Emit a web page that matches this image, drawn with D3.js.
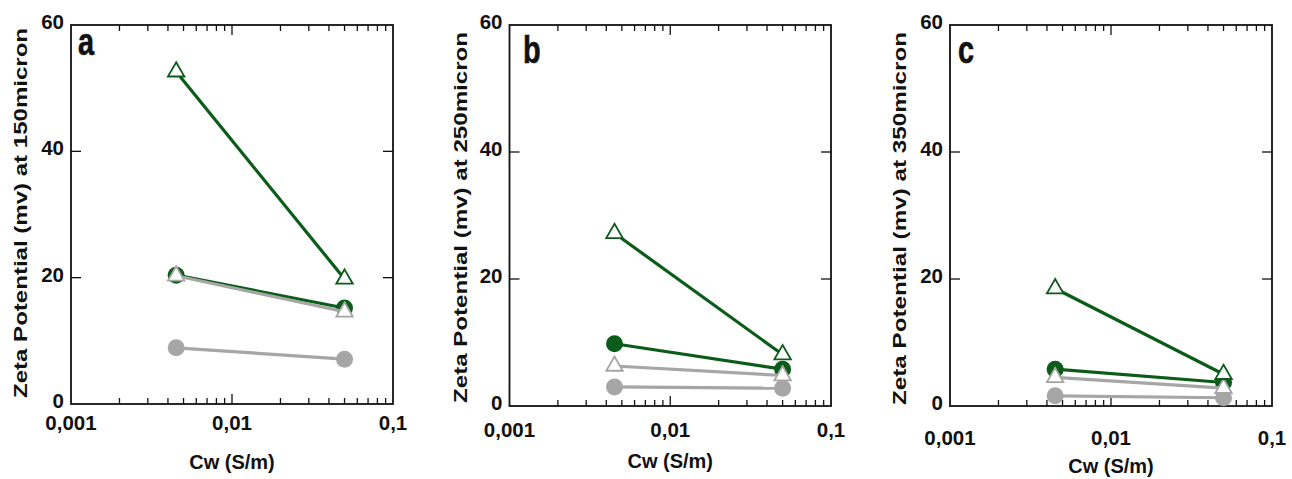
<!DOCTYPE html>
<html><head><meta charset="utf-8">
<script src="https://cdn.jsdelivr.net/npm/d3@7"></script>
<style>body{margin:0;background:#fff}svg{display:block}text{font-family:"Liberation Sans",Arial,sans-serif;font-weight:bold;fill:#111}</style>
</head><body>
<svg id="chart" width="1292" height="479"></svg>
<script>
// ---- data ----
const cwValues = [0.0045, 0.05];
const xTickValues = [0.001, 0.01, 0.1];
const xTickLabels = ["0,001", "0,01", "0,1"];
const yTickValues = [0, 20, 40, 60];
const yTickLabels = ["0", "20", "40", "60"];
const panelLetters = ["a", "b", "c"];
const yAxisTitles = ["Zeta Potential (mv) at 150micron", "Zeta Potential (mv) at 250micron", "Zeta Potential (mv) at 350micron"];
const xAxisTitle = "Cw (S/m)";
const seriesNames = ["grayCircle", "greenCircle", "grayTriangle", "greenTriangle"];

const panelA_grayCircle = [8.9, 7.1];
const panelA_greenCircle = [20.4, 15.2];
const panelA_grayTriangle = [20.3, 14.6];
const panelA_greenTriangle = [52.6, 19.8];

const panelB_grayCircle = [3.0, 2.8];
const panelB_greenCircle = [9.8, 5.8];
const panelB_grayTriangle = [6.3, 4.8];
const panelB_greenTriangle = [27.2, 8.1];

const panelC_grayCircle = [1.6, 1.3];
const panelC_greenCircle = [5.8, 3.7];
const panelC_grayTriangle = [4.5, 2.8];
const panelC_greenTriangle = [18.5, 5.0];

const panelData = [
  [panelA_grayCircle, panelA_greenCircle, panelA_grayTriangle, panelA_greenTriangle],
  [panelB_grayCircle, panelB_greenCircle, panelB_grayTriangle, panelB_greenTriangle],
  [panelC_grayCircle, panelC_greenCircle, panelC_grayTriangle, panelC_greenTriangle]
];

// ---- styles / layout ----
const GREEN = "#0c5c19", GRAY = "#a6a6a6";
const seriesStyle = {
  grayCircle: {color: GRAY, shape: "circle"},
  greenCircle: {color: GREEN, shape: "circle"},
  grayTriangle: {color: GRAY, shape: "triangle"},
  greenTriangle: {color: GREEN, shape: "triangle"}
};
const layouts = [
  {left: 71, right: 393, top: 25, bottom: 404, xLabY: 430, cwY: 469, letterX: 78, letterY: 55, ylabX: 21, ylabY0: 398, ylabY1: 28},
  {left: 509.5, right: 831, top: 25, bottom: 406, xLabY: 437, cwY: 468, letterX: 523, letterY: 63, ylabX: 461, ylabY0: 403, ylabY1: 32},
  {left: 950, right: 1272, top: 25, bottom: 406, xLabY: 445, cwY: 473, letterX: 958, letterY: 63, ylabX: 900, ylabY0: 405, ylabY1: 32}
];

const svg = d3.select("#chart");

layouts.forEach((L, pi) => {
  const g = svg.append("g");
  const x = d3.scaleLog().domain([0.001, 0.1]).range([L.left, L.right]);
  const y = d3.scaleLinear().domain([0, 60]).range([L.bottom, L.top]);

  // x ticks (log minor + major)
  x.ticks().forEach(v => {
    const isMajor = Math.abs(Math.log10(v) - Math.round(Math.log10(v))) < 1e-9;
    if (v <= 0.001 || v >= 0.1) return;
    const len = isMajor ? 10 : 6;
    g.append("line").attr("x1", x(v)).attr("x2", x(v)).attr("y1", L.bottom).attr("y2", L.bottom - len)
      .attr("stroke", "#111").attr("stroke-width", 1.3);
    g.append("line").attr("x1", x(v)).attr("x2", x(v)).attr("y1", L.top).attr("y2", L.top + len)
      .attr("stroke", "#111").attr("stroke-width", 1.3);
  });
  // y ticks
  yTickValues.forEach(v => {
    if (v === 0 || v === 60) return;
    g.append("line").attr("x1", L.left).attr("x2", L.left + 10).attr("y1", y(v)).attr("y2", y(v))
      .attr("stroke", "#111").attr("stroke-width", 1.3);
    g.append("line").attr("x1", L.right).attr("x2", L.right - 10).attr("y1", y(v)).attr("y2", y(v))
      .attr("stroke", "#111").attr("stroke-width", 1.3);
  });
  // frame
  g.append("rect").attr("x", L.left).attr("y", L.top).attr("width", L.right - L.left).attr("height", L.bottom - L.top)
    .attr("fill", "none").attr("stroke", "#111").attr("stroke-width", 1.8);

  // tick labels
  yTickValues.forEach((v, i) => {
    g.append("text").attr("x", L.left - 7).attr("y", y(v) + 4).attr("text-anchor", "end")
      .attr("font-size", 20.5).text(yTickLabels[i]);
  });
  xTickValues.forEach((v, i) => {
    g.append("text").attr("x", x(v)).attr("y", L.xLabY).attr("text-anchor", "middle")
      .attr("font-size", 20.5).text(xTickLabels[i]);
  });

  // axis titles
  g.append("text").attr("x", x(0.01)).attr("y", L.cwY).attr("text-anchor", "middle")
    .attr("font-size", 20).text(xAxisTitle);
  const ylen = L.ylabY0 - L.ylabY1;
  g.append("text")
    .attr("transform", `translate(${L.ylabX},${(L.ylabY0 + L.ylabY1) / 2}) rotate(-90)`)
    .attr("text-anchor", "middle").attr("dy", "0.35em")
    .attr("font-size", 18).attr("textLength", ylen).attr("lengthAdjust", "spacingAndGlyphs")
    .text(yAxisTitles[pi]);

  // panel letter
  g.append("text").attr("transform", `translate(${L.letterX},${L.letterY}) scale(0.76,1)`)
    .attr("font-size", 38).attr("stroke", "#111").attr("stroke-width", 0.6).text(panelLetters[pi]);

  // series
  const line = d3.line().x((d, i) => x(cwValues[i])).y(d => y(d));
  const tri = d3.symbol().type(d3.symbolTriangle).size(118);
  seriesNames.forEach((name, si) => {
    const vals = panelData[pi][si];
    const st = seriesStyle[name];
    const sg = g.append("g");
    sg.append("path").datum(vals).attr("d", line).attr("fill", "none")
      .attr("stroke", st.color).attr("stroke-width", 3.2);
    vals.forEach((v, i) => {
      if (st.shape === "circle") {
        sg.append("circle").attr("cx", x(cwValues[i])).attr("cy", y(v)).attr("r", 8.5).attr("fill", st.color);
      } else {
        sg.append("path").attr("d", tri).attr("transform", `translate(${x(cwValues[i])},${y(v)})`)
          .attr("fill", "#fff").attr("stroke", st.color).attr("stroke-width", 1.8);
      }
    });
  });
});
</script>
</body></html>
